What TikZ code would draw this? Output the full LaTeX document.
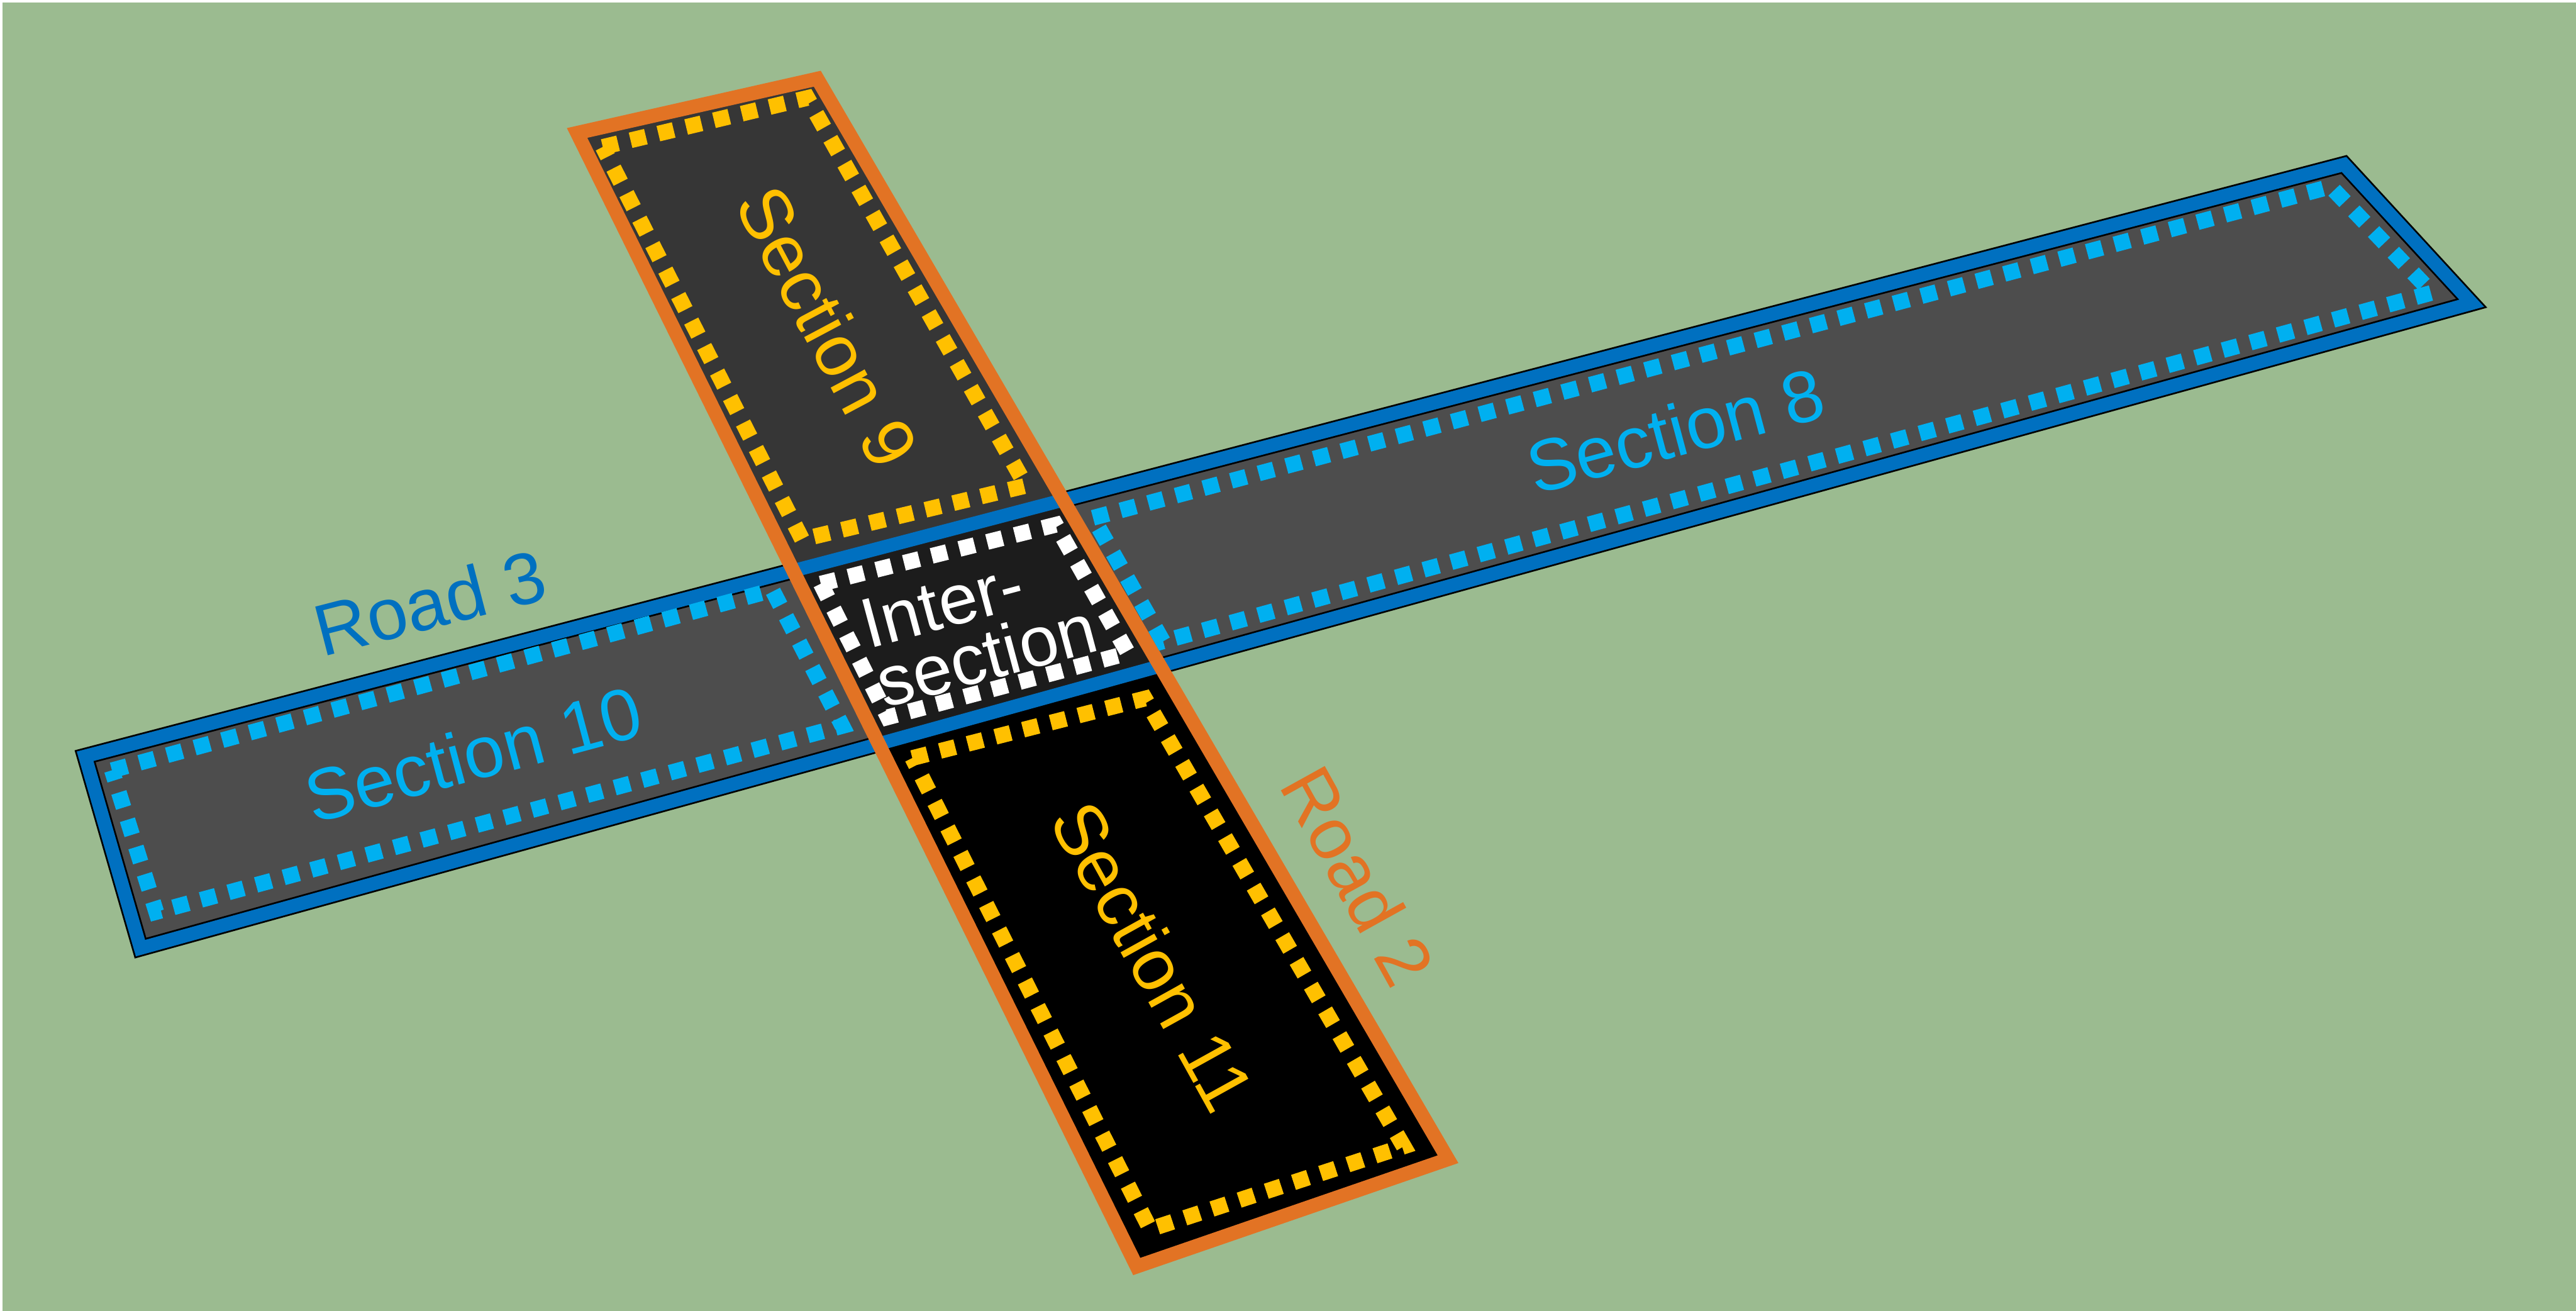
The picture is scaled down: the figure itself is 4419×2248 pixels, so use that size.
\documentclass[tikz,border=0pt]{standalone}
\usepackage{fontspec}
\setmainfont{Liberation Sans}
\definecolor{bggreen}{RGB}{155,187,144}
\definecolor{roadblue}{RGB}{0,112,192}
\definecolor{roadorange}{RGB}{226,115,36}
\definecolor{secyellow}{RGB}{255,192,0}
\definecolor{seccyan}{RGB}{0,176,240}
\definecolor{asphaltA}{RGB}{77,77,77}
\definecolor{asphaltB}{RGB}{54,54,54}
\definecolor{asphaltC}{RGB}{28,28,28}
\begin{document}
\begin{tikzpicture}[x=0.01cm,y=-0.01cm,
  dotbox/.style={line width=0.27cm, dash pattern=on 0.27cm off 0.22cm, line cap=butt, line join=miter},
  edgeline/.style={line width=0.23cm, line join=miter},
  lbl/.style={font=\fontsize{35.6}{40}\selectfont, inner sep=0pt}]
\useasboundingbox (0,0) rectangle (4419,2248);
\fill[white] (0,0) rectangle (4419,2248);
\fill[bggreen] (4,4) rectangle (4419,2248);

% Road 3 outline points
\coordinate (r3a) at (146,1297);
\coordinate (r3b) at (4021,282);
\coordinate (r3c) at (4240,520);
\coordinate (r3d) at (241,1626);
% Road 2 outline points
\coordinate (r2a) at (990,228);
\coordinate (r2b) at (1402,135);
\coordinate (r2c) at (2484,1988);
\coordinate (r2d) at (1950,2172);

% Road 3 surface
\filldraw[fill=asphaltA, draw=black, line width=0.29cm, line join=miter] (r3a) -- (r3b) -- (r3c) -- (r3d) -- cycle;

% Road 2 surface, split in three parts
\begin{scope}
  \clip (r2a) -- (r2b) -- (r2c) -- (r2d) -- cycle;
  \fill[black] (r2a) -- (r2b) -- (r2c) -- (r2d) -- cycle;
  \fill[asphaltB] (0,1335) -- (4419,178) -- (4419,0) -- (0,0) -- cycle;
  \fill[asphaltC] (r3a) -- (r3b) -- (r3c) -- (r3d) -- cycle;
\end{scope}

% Road borders
\draw[edgeline, roadblue] (r3a) -- (r3b) -- (r3c) -- (r3d) -- cycle;
\draw[edgeline, roadorange, line width=0.24cm] (r2a) -- (r2b) -- (r2c) -- (r2d) -- cycle;

% Section boxes
\draw[dotbox, secyellow] (1034,252) -- (1385,168) -- (1760,833) -- (1376,925) -- cycle;
\draw[dotbox, white] (1408,1001) -- (1811,900) -- (1935,1120) -- (1523,1230) -- cycle;
\draw[dotbox, secyellow] (1565,1300) -- (1964,1198) -- (2408,1966) -- (1973,2108) -- cycle;
\draw[dotbox, seccyan] (192,1321) -- (1325,1012) -- (1445,1245) -- (268,1564) -- cycle;
\draw[dotbox, seccyan] (1875,888) -- (3998,320) -- (4172,502) -- (1995,1100) -- cycle;

% Labels
\node[lbl, text=roadblue, rotate=14.5] (road3) at (737,1033) {Road 3};
\node[lbl, text=seccyan, rotate=15] (sec10) at (812,1293) {Section 10};
\node[lbl, text=seccyan, rotate=15] (sec8) at (2874,738) {Section 8};
\node[lbl, text=secyellow, rotate=-62] (sec9) at (1420,560) {Section 9};
\node[lbl, text=secyellow, rotate=-61] (sec11) at (1978,1640) {Section 11};
\node[lbl, text=roadorange, rotate=-61] (road2) at (2330,1502) {Road 2};
\node[lbl, text=white, rotate=15, align=left, font=\fontsize{34.5}{30}\selectfont] (inter) at (1679,1074) {Inter-\\section};
\end{tikzpicture}
\end{document}
